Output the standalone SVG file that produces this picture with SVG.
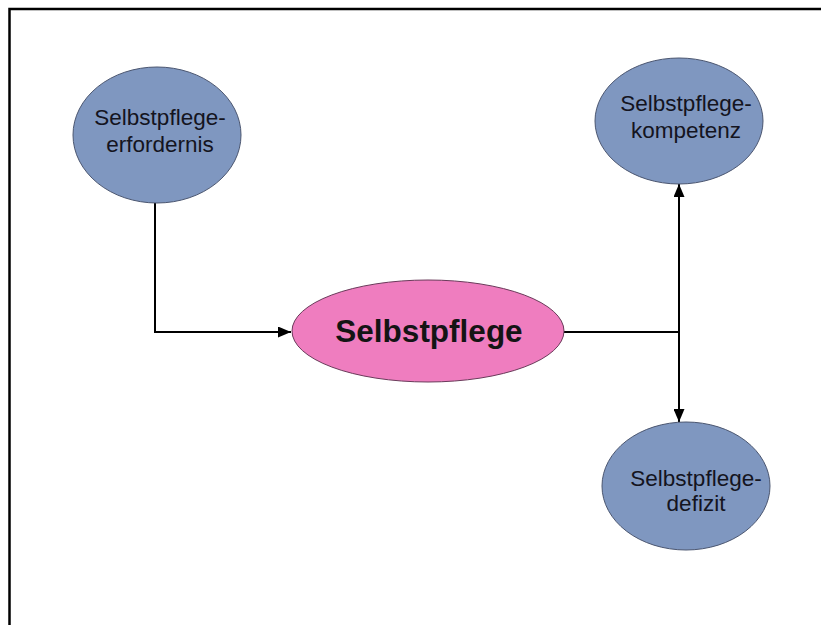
<svg xmlns="http://www.w3.org/2000/svg" width="821" height="625" viewBox="0 0 821 625">
<style>
.blue{fill:#7f97c0;stroke:#4b5670;stroke-width:1}
.pink{fill:#ef7dbf;stroke:#6a3a5a;stroke-width:1}
.lbl{font-family:"Liberation Sans",Arial,sans-serif;font-size:22.5px;fill:#141420;text-anchor:middle}
.big{font-family:"Liberation Sans",Arial,sans-serif;font-size:31.5px;font-weight:bold;fill:#141414;text-anchor:middle}
.conn{fill:none;stroke:#000;stroke-width:2}
</style>
<defs>
<marker id="arr" viewBox="0 0 13 11" refX="13" refY="5.5" markerWidth="13" markerHeight="11" markerUnits="userSpaceOnUse" orient="auto">
<path d="M0,0 L13,5.5 L0,11 Z" fill="#000"/>
</marker>
</defs>
<rect width="821" height="625" fill="#fff"/>
<path d="M9.5,625 V9 H821" fill="none" stroke="#000" stroke-width="2.5"/>
<g id="connectors">
<path class="conn" d="M155,203 V332 H291" marker-end="url(#arr)"/>
<path class="conn" d="M564,332 H679"/>
<path class="conn" d="M679,332 V184" marker-end="url(#arr)"/>
<path class="conn" d="M679,332 V422" marker-end="url(#arr)"/>
</g>
<g id="node-erfordernis">
<ellipse class="blue" cx="157" cy="135" rx="84" ry="68"/>
<text class="lbl" x="160" y="125">Selbstpflege-</text>
<text class="lbl" x="160" y="152">erfordernis</text>
</g>
<g id="node-kompetenz">
<ellipse class="blue" cx="679" cy="121" rx="84" ry="63"/>
<text class="lbl" x="686" y="111">Selbstpflege-</text>
<text class="lbl" x="686" y="138">kompetenz</text>
</g>
<g id="node-selbstpflege">
<ellipse class="pink" cx="428" cy="331" rx="136" ry="51"/>
<text class="big" x="429" y="342">Selbstpflege</text>
</g>
<g id="node-defizit">
<ellipse class="blue" cx="686" cy="486" rx="84" ry="64"/>
<text class="lbl" x="696" y="486">Selbstpflege-</text>
<text class="lbl" x="696" y="511">defizit</text>
</g>
</svg>
